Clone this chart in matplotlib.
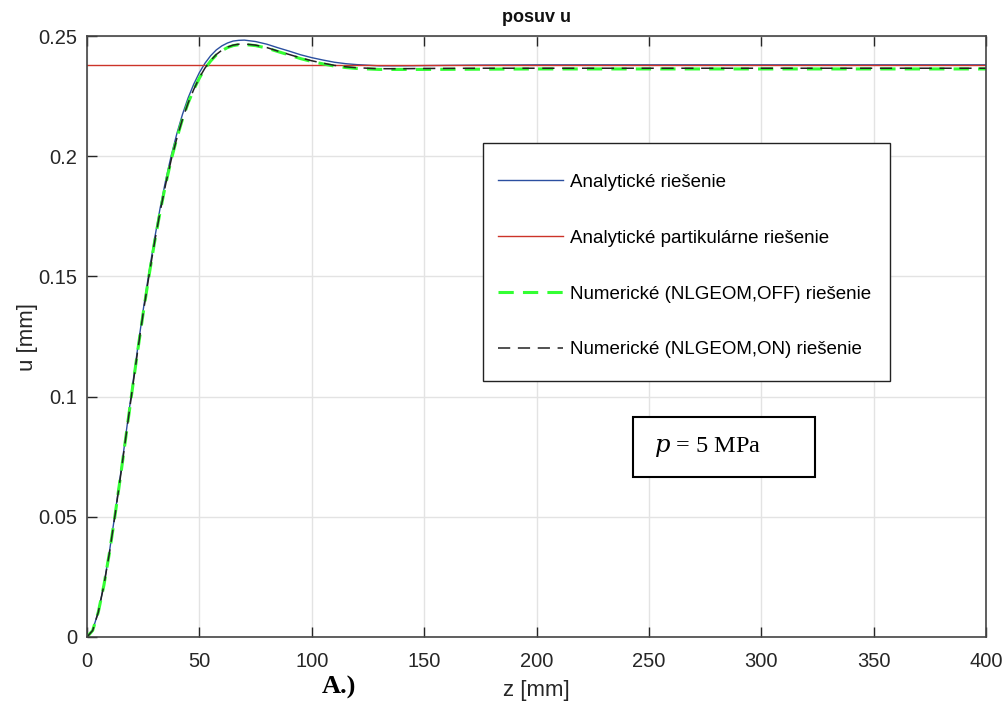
import matplotlib
matplotlib.use("Agg")
import matplotlib.pyplot as plt
from matplotlib.patches import Rectangle

plt.rcParams['font.family'] = ['Liberation Sans', 'DejaVu Sans']

# z [mm]
z = [0, 2.5, 5, 7.5, 10, 12.5, 15, 17.5, 20, 22.5, 25, 27.5, 30, 32.5, 35,
     37.5, 40, 42.5, 45, 47.5, 50, 52.5, 55, 57.5, 60, 62.5, 65, 67.5, 70,
     75, 80, 85, 90, 95, 100, 105, 110, 115, 120,
     130, 140, 150, 175, 200, 250, 300, 350, 400]

# analytical solution u [mm]
u_anal = [0, 0.0028, 0.0105, 0.0218, 0.0357, 0.0515, 0.0683, 0.0857, 0.1030, 0.1199,
          0.1361, 0.1512, 0.1654, 0.1783, 0.1900, 0.2004, 0.2095, 0.2175, 0.2243, 0.2300,
          0.2348, 0.2387, 0.2418, 0.2442, 0.2459, 0.2471, 0.2479, 0.2482, 0.2483,
          0.2477, 0.2466, 0.2451, 0.2437, 0.2422, 0.2410, 0.2400, 0.2391, 0.2385, 0.2381,
          0.2376, 0.2376, 0.2377, 0.2379, 0.2380, 0.2380, 0.2380, 0.2380, 0.2380]

# particular solution
u_part = 0.238

# numerical, NLGEOM OFF
u_off = [0, 0.0027, 0.0103, 0.0215, 0.0352, 0.0509, 0.0675, 0.0848, 0.1020, 0.1188,
         0.1348, 0.1499, 0.1640, 0.1768, 0.1884, 0.1987, 0.2076, 0.2155, 0.2222, 0.2278,
         0.2325, 0.2365, 0.2396, 0.2421, 0.2439, 0.2452, 0.2460, 0.2464, 0.2465,
         0.2460, 0.2450, 0.2435, 0.2421, 0.2406, 0.2394, 0.2384, 0.2375, 0.2369, 0.2365,
         0.2361, 0.2361, 0.2361, 0.2362, 0.2363, 0.2363, 0.2363, 0.2363, 0.2363]

# numerical, NLGEOM ON
u_on = [0, 0.0027, 0.0103, 0.0215, 0.0352, 0.0509, 0.0675, 0.0848, 0.1020, 0.1188,
        0.1348, 0.1499, 0.1640, 0.1768, 0.1884, 0.1987, 0.2076, 0.2155, 0.2222, 0.2278,
        0.2327, 0.2367, 0.2398, 0.2423, 0.2441, 0.2454, 0.2462, 0.2466, 0.2467,
        0.2462, 0.2452, 0.2437, 0.2423, 0.2409, 0.2397, 0.2387, 0.2378, 0.2372, 0.2368,
        0.2364, 0.2364, 0.2365, 0.2366, 0.2366, 0.2366, 0.2366, 0.2366, 0.2366]

fig = plt.figure(figsize=(10.05, 7.02), dpi=100)
ax = fig.add_axes([0.0866, 0.0926, 0.8945, 0.8561])

ax.plot(z, u_anal, color='#2b4fa0', lw=1.0, label='Analytické riešenie')
ax.axhline(u_part, color='#cc3329', lw=1.0, label='Analytické partikulárne riešenie')
ax.plot(z, u_off, color='#33ff33', lw=2.2, ls=(0, (5, 3)), label='Numerické (NLGEOM,OFF) riešenie')
ax.plot(z, u_on, color='#222222', lw=1.1, ls=(0, (8, 5)), label='Numerické (NLGEOM,ON) riešenie')

ax.set_xlim(0, 400)
ax.set_ylim(0, 0.25)
ax.set_xticks(range(0, 401, 50))
ax.set_yticks([0, 0.05, 0.1, 0.15, 0.2, 0.25])
ax.set_yticklabels(['0', '0.05', '0.1', '0.15', '0.2', '0.25'])
ax.grid(True, color='#e3e3e3', lw=1.0)
ax.set_axisbelow(True)
ax.tick_params(direction='in', length=7, width=1, colors='#262626', labelsize=14.5,
               top=True, right=False)
ax.tick_params(axis='x', pad=11)
ax.tick_params(axis='y', pad=7)
for s in ax.spines.values():
    s.set_color('#444444')
    s.set_linewidth(1.2)

ax.set_title('posuv u', fontsize=13, fontweight='bold', color='#111111', pad=10)
ax.set_xlabel('z [mm]', fontsize=16, color='#262626', labelpad=6)
ax.set_ylabel('u [mm]', fontsize=16, color='#262626', labelpad=0)

# legend frame drawn separately to match the box size
ax.add_patch(Rectangle((0.4405, 0.426), 0.4527, 0.396, transform=ax.transAxes,
                       facecolor='white', edgecolor='#222222', lw=1.0, zorder=4))
leg = ax.legend(loc='upper left', bbox_to_anchor=(0.4572, 0.7712), borderaxespad=0,
                fontsize=13.5, labelspacing=2.07, handlelength=3.45, handletextpad=0.37,
                borderpad=0, frameon=False)
leg.set_zorder(5)

# parameter box
fig.patches.append(Rectangle((0.630, 0.3205), 0.181, 0.0855, transform=fig.transFigure,
                             facecolor='white', edgecolor='black', lw=1.5, zorder=5))
fig.text(0.651, 0.3632, r'$p$ = 5 MPa', fontsize=17.5, family='Liberation Serif',
         va='center', ha='left', zorder=6,
         math_fontfamily='dejavuserif')

fig.text(0.320, 0.021, 'A.)', fontsize=19, fontweight='bold', family='Liberation Serif',
         ha='left', va='center')

fig.savefig('out.png', dpi=100)
